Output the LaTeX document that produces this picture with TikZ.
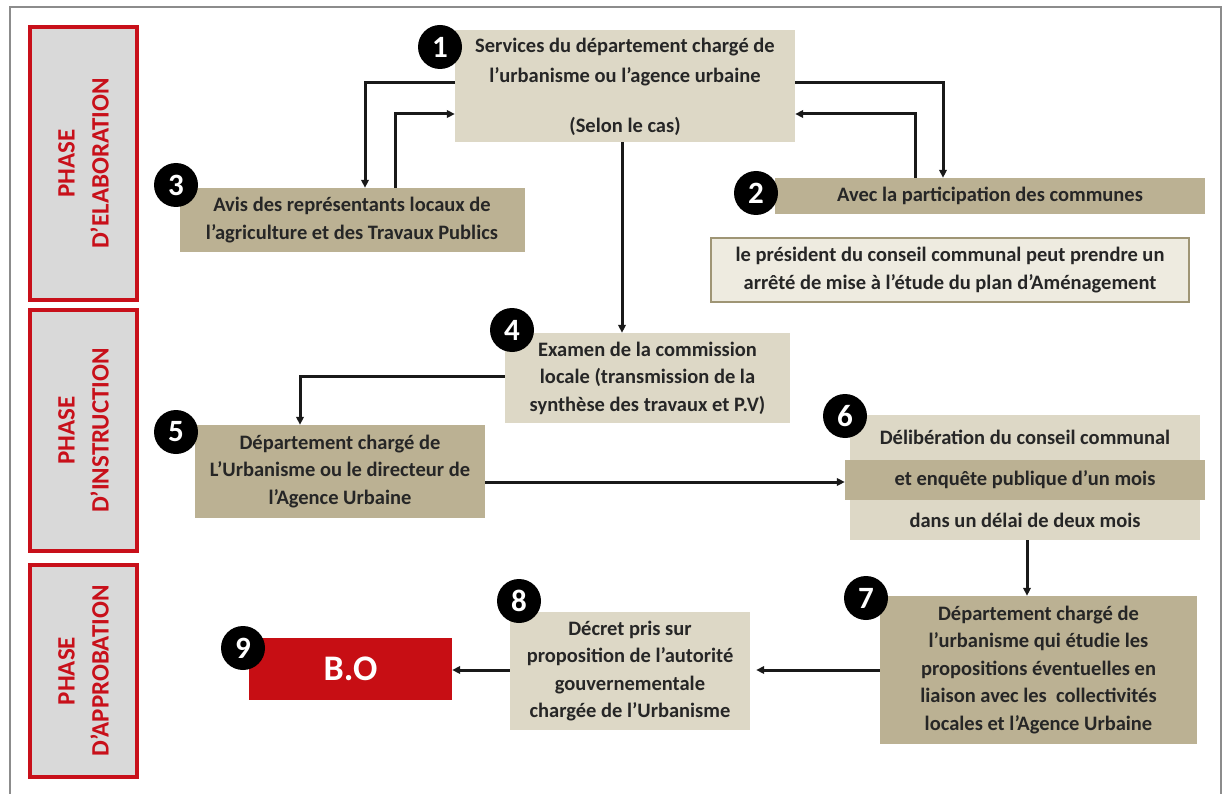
\documentclass[tikz,border=0pt]{standalone}
\usepackage{fontspec}
\setmainfont{Carlito}
\usetikzlibrary{arrows.meta,calc}
\definecolor{lightb}{HTML}{DDD8C6}
\definecolor{tanb}{HTML}{BBB193}
\definecolor{paleb}{HTML}{EEEBE0}
\definecolor{paleborder}{HTML}{9F9575}
\definecolor{phasered}{HTML}{C8101A}
\definecolor{phasegray}{HTML}{D9D9D9}
\definecolor{bored}{HTML}{C70E14}
\begin{document}
\begin{tikzpicture}[x=1pt,y=-1pt,
  txt/.style={font=\bfseries\fontsize{20.5}{27.5}\selectfont, align=center, text=black!85, inner sep=0pt},
  lightbox/.style={txt, fill=lightb, draw=none, rectangle},
  tanbox/.style={txt, fill=tanb, draw=none, rectangle},
  phasebox/.style={fill=phasegray, draw=phasered, line width=3.5pt, rectangle, inner sep=0pt},
  phasetxt/.style={font=\bfseries\fontsize{25}{34}\selectfont, text=phasered, align=center, rotate=90},
  num/.style={circle, fill=black, text=white, font=\bfseries\fontsize{31}{31}\selectfont, minimum size=44pt, inner sep=0pt},
  arr/.style={line width=3pt, -{Triangle[length=8pt,width=7.5pt]}, draw=black!90}
]
\useasboundingbox (0,0) rectangle (1225,794);
\fill[white] (0,0) rectangle (1225,794);
\draw[black!45, line width=1.2pt] (10,7) rectangle (1221,800);

% phase boxes
\node[phasebox, minimum width=107pt, minimum height=273pt] (p1) at (83.5,163.5) {};
\node[phasetxt] (t1) at (p1.center) {PHASE\\D’ELABORATION};
\node[phasebox, minimum width=107pt, minimum height=241pt] (p2) at (83.5,430.5) {};
\node[phasetxt] (t2) at (p2.center) {PHASE\\D’INSTRUCTION};
\node[phasebox, minimum width=107pt, minimum height=212pt] (p3) at (83.5,671) {};
\node[phasetxt] (t3) at (p3.center) {PHASE\\D’APPROBATION};

% box 1
\node[lightbox, minimum width=340pt, minimum height=112pt] (b1) at (625,86) {};
\node[txt, font=\bfseries\fontsize{20.5}{30}\selectfont] (b1t) at (625,87) {Services du département chargé de\\l’urbanisme ou l’agence urbaine\\[20pt](Selon le cas)};
\node[num] (n1) at (440,47) {1};

% box 3
\node[tanbox, minimum width=345pt, minimum height=64pt] (b3) at (352,220)
  {Avis des représentants locaux de\\l’agriculture et des Travaux Publics};
\node[num] (n3) at (176,185) {3};

% box 2
\node[tanbox, minimum width=430pt, minimum height=36pt] (b2) at (990,196) {Avec la participation des communes};
\node[num] (n2) at (756,193) {2};
\node[txt, fill=paleb, draw=paleborder, line width=2.5pt, minimum width=478pt, minimum height=64pt] (b2b) at (950,270)
  {le président du conseil communal peut prendre un\\arrêté de mise à l’étude du plan d’Aménagement};

% box 4
\node[lightbox, minimum width=285pt, minimum height=90pt] (b4) at (647.5,378)
  {Examen de la commission\\locale (transmission de la\\synthèse des travaux et P.V)};
\node[num] (n4) at (512,330) {4};

% box 5
\node[tanbox, minimum width=290pt, minimum height=93pt] (b5) at (340,471.5)
  {Département chargé de\\L’Urbanisme ou le directeur de\\l’Agence Urbaine};
\node[num] (n5) at (176,432) {5};

% box 6
\node[lightbox, minimum width=350pt, minimum height=45pt] (b6a) at (1025,437.5) {Délibération du conseil communal};
\node[lightbox, minimum width=350pt, minimum height=40pt] (b6c) at (1025,520) {dans un délai de deux mois};
\node[tanbox, minimum width=360pt, minimum height=40pt] (b6b) at (1025,480) {et enquête publique d’un mois};
\node[num] (n6) at (845,416) {6};

% box 7
\node[tanbox, minimum width=317pt, minimum height=148pt] (b7) at (1038.5,670)
  {Département chargé de\\l’urbanisme qui étudie les\\propositions éventuelles en\\liaison avec les\ \ collectivités\\locales et l’Agence Urbaine};
\node[num] (n7) at (866,598) {7};

% box 8
\node[lightbox, minimum width=240pt, minimum height=118pt] (b8) at (630,671)
  {Décret pris sur\\proposition de l’autorité\\gouvernementale\\chargée de l’Urbanisme};
\node[num] (n8) at (519,601) {8};

% box 9
\node[fill=bored, minimum width=203pt, minimum height=62pt, text=white, font=\bfseries\fontsize{36}{36}\selectfont, inner sep=0pt] (b9) at (350.5,669) {B.O};
\node[num] (n9) at (243,648) {9};

% connectors
\draw[arr] (b1.west |- 0,83) -| (b3.north -| 365,0);
\draw[arr] (b3.north -| 395,0) |- (b1.west |- 0,114);
\draw[arr] (b1.east |- 0,83) -| (b2.north -| 943,0);
\draw[arr] (b2.north -| 915,0) |- (b1.east |- 0,114);
\draw[arr] (b1.south -| 622,0) -- (b4.north -| 622,0);
\draw[arr] (b4.west |- 0,376) -| (b5.north -| 300,0);
\draw[arr] (b5.east |- 0,482) -- (b6b.west |- 0,482);
\draw[arr] (b6c.south -| 1027,0) -- (b7.north -| 1027,0);
\draw[arr] (b7.west |- 0,670) -- ($(b8.east |- 0,670)+(6,0)$);
\draw[arr] (b8.west |- 0,670) -- (b9.east |- 0,670);
\end{tikzpicture}
\end{document}
